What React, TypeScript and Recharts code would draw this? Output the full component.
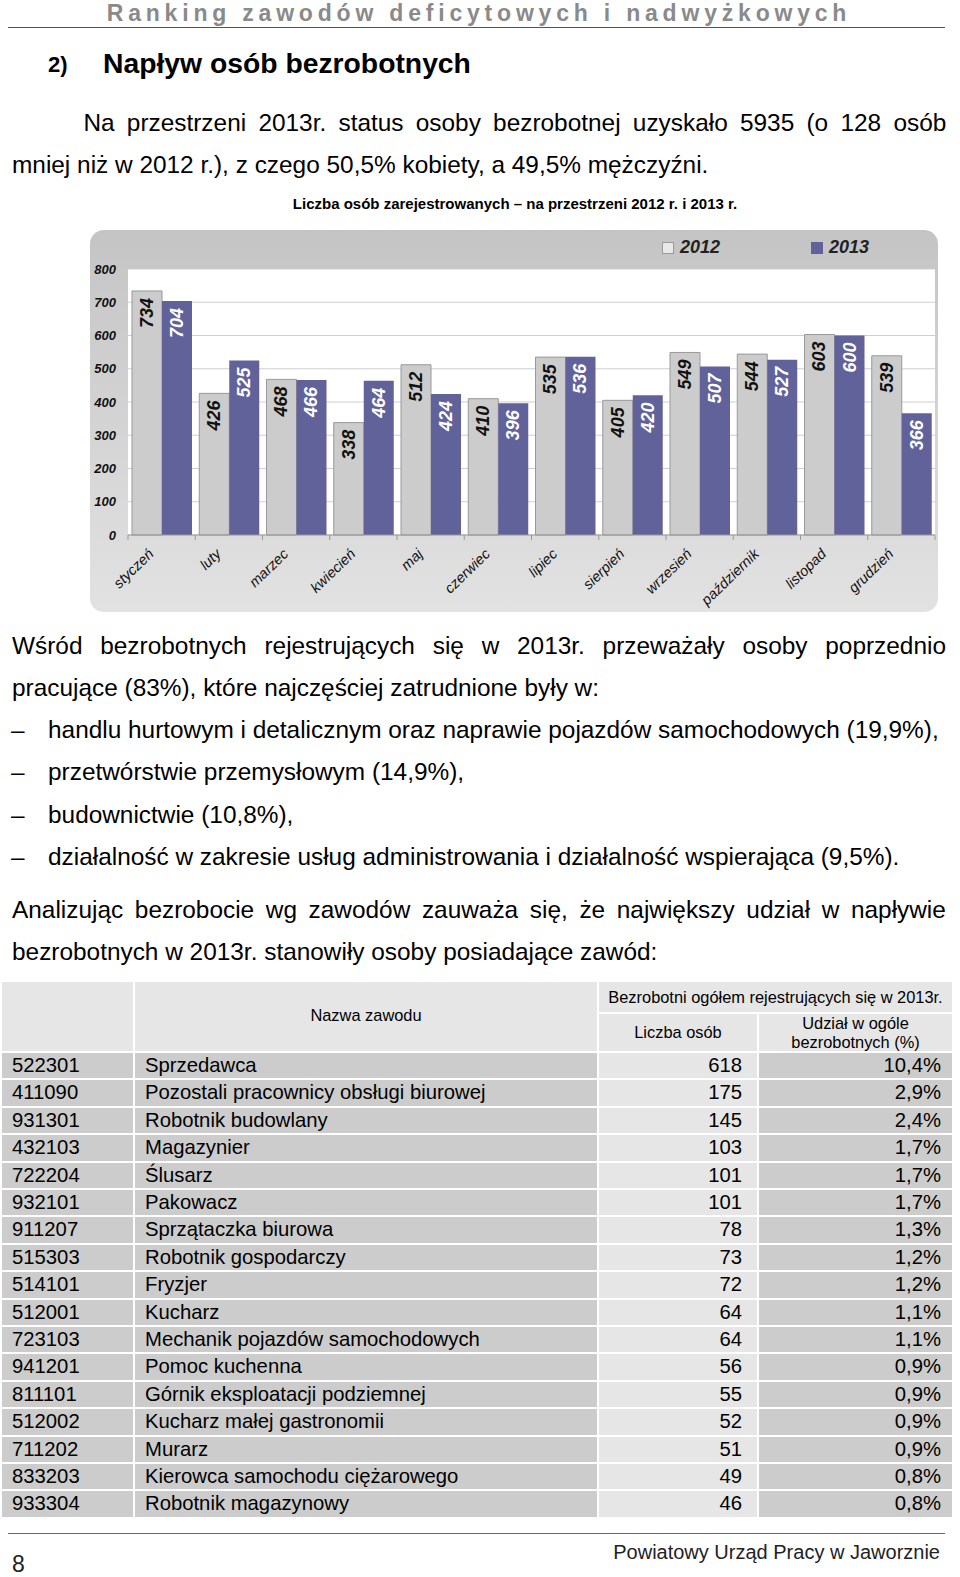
import React from "react"
import { BarChart, Bar, XAxis, YAxis, CartesianGrid, Legend, LabelList } from "recharts"

const months = ["styczeń", "luty", "marzec", "kwiecień", "maj", "czerwiec", "lipiec", "sierpień", "wrzesień", "październik", "listopad", "grudzień"]
const y2012 = [734, 426, 468, 338, 512, 410, 535, 405, 549, 544, 603, 539]
const y2013 = [704, 525, 466, 464, 424, 396, 536, 420, 507, 527, 600, 366]
const yTicks = [0, 100, 200, 300, 400, 500, 600, 700, 800]

const codes = ["522301", "411090", "931301", "432103", "722204", "932101", "911207", "515303", "514101", "512001", "723103", "941201", "811101", "512002", "711202", "833203", "933304"]
const jobs = ["Sprzedawca", "Pozostali pracownicy obsługi biurowej", "Robotnik budowlany", "Magazynier", "Ślusarz", "Pakowacz", "Sprzątaczka biurowa", "Robotnik gospodarczy", "Fryzjer", "Kucharz", "Mechanik pojazdów samochodowych", "Pomoc kuchenna", "Górnik eksploatacji podziemnej", "Kucharz małej gastronomii", "Murarz", "Kierowca samochodu ciężarowego", "Robotnik magazynowy"]
const counts = [618, 175, 145, 103, 101, 101, 78, 73, 72, 64, 64, 56, 55, 52, 51, 49, 46]
const shares = ["10,4%", "2,9%", "2,4%", "1,7%", "1,7%", "1,7%", "1,3%", "1,2%", "1,2%", "1,1%", "1,1%", "0,9%", "0,9%", "0,9%", "0,9%", "0,8%", "0,8%"]

const data = months.map((m, i) => ({ m, a: y2012[i], b: y2013[i] }))

const SANS = "'Liberation Sans', Arial, sans-serif"

function MonthTick(props: any) {
  const { x, y, payload, index } = props
  const off = payload?.offset ?? 33.6
  const tx = x - 7
  const ty = y + 20
  return (
    <g>
      <line x1={x - off} y1={y} x2={x - off} y2={y + 5} stroke="#999" />
      {index === months.length - 1 && <line x1={x + off} y1={y} x2={x + off} y2={y + 5} stroke="#999" />}
      <text x={tx} y={ty} transform={`rotate(-44, ${tx}, ${ty})`} textAnchor="end"
        fontFamily={SANS} fontStyle="italic" fontSize={14.5} fill="#111">{payload.value}</text>
    </g>
  )
}

function BarValue(color: string) {
  return (props: any) => {
    const { x, y, width, value } = props
    const cx = x + width / 2
    const cy = y + 7
    return (
      <text x={cx} y={cy} transform={`rotate(-90, ${cx}, ${cy})`} textAnchor="end" dominantBaseline="central"
        fontFamily={SANS} fontWeight="bold" fontStyle="italic" fontSize={18} fill={color}>{value}</text>
    )
  }
}

function LegendBox() {
  const item = (label: string, fill: string, stroke: string) => (
    <div style={{ display: "flex", alignItems: "center", width: 149 }}>
      <span style={{ display: "inline-block", width: 10, height: 10, background: fill, border: `1px solid ${stroke}`, marginRight: 6 }} />
      <span style={{ fontFamily: SANS, fontWeight: "bold", fontStyle: "italic", fontSize: 18, color: "#222" }}>{label}</span>
    </div>
  )
  return (
    <div style={{ display: "flex" }}>
      {item("2012", "#e8e8e8", "#999")}
      {item("2013", "#62629a", "#62629a")}
    </div>
  )
}

function Chart() {
  return (
    <div style={{ position: "absolute", left: 90, top: 230, width: 848, height: 382, borderRadius: 14,
      background: "linear-gradient(#c4c4c4 0%, #c8c8c8 12%, #e2e2e2 100%)", overflow: "hidden" }}>
      <BarChart width={848} height={382} data={data} margin={{ top: 17, right: 3, left: 8, bottom: 7 }}
        barCategoryGap={4} barGap={0}>
        <CartesianGrid vertical={false} stroke="#cfcfcf" fill="#fff" />
        <YAxis domain={[0, 800]} ticks={yTicks} width={30} axisLine={false} tickLine={false} tickSize={0} tickMargin={12}
          tick={{ fontFamily: SANS, fontWeight: "bold", fontStyle: "italic", fontSize: 13, fill: "#111" }} />
        <XAxis dataKey="m" interval={0} height={70} tickSize={0} tickMargin={0} tickLine={false}
          axisLine={{ stroke: "#999" }} tick={<MonthTick />} />
        <Legend verticalAlign="top" content={<LegendBox />}
          wrapperStyle={{ top: 7, left: 572, width: 300, height: 22 }} />
        <Bar dataKey="a" name="2012" fill="#cccccc" stroke="#999" strokeWidth={1} isAnimationActive={false}>
          <LabelList dataKey="a" content={BarValue("#111")} />
        </Bar>
        <Bar dataKey="b" name="2013" fill="#62629a" isAnimationActive={false}>
          <LabelList dataKey="b" content={BarValue("#fff")} />
        </Bar>
      </BarChart>
    </div>
  )
}

const BODY = 24.4

function Line({ top, left, children, size = BODY, style = {} }: any) {
  return (
    <div style={{ position: "absolute", top: top - 21, left, height: 42, lineHeight: "42px", fontFamily: SANS,
      fontSize: size, color: "#000", whiteSpace: "nowrap", ...style }}>{children}</div>
  )
}

function JustLine({ top, left, width, text }: any) {
  const words = text.split(" ")
  return (
    <div style={{ position: "absolute", top: top - 21, left, width, height: 42, lineHeight: "42px", fontFamily: SANS,
      fontSize: BODY, color: "#000", whiteSpace: "nowrap", display: "flex", justifyContent: "space-between" }}>
      {words.map((w: string, i: number) => <span key={i}>{w}</span>)}
    </div>
  )
}

const bullets = [
  "handlu hurtowym i detalicznym oraz naprawie pojazdów samochodowych (19,9%),",
  "przetwórstwie przemysłowym (14,9%),",
  "budownictwie (10,8%),",
  "działalność w zakresie usług administrowania i działalność wspierająca (9,5%).",
]

function Table() {
  const cols = [[2, 133], [135, 597], [599, 757], [759, 952]]
  const light = "#e6e6e6"
  const dark = "#cccccc"
  const rowTop = 1053
  const pitch = 27.4
  const cell = (l: number, r: number, t: number, h: number, bg: string, content: any, align: string, pad = 10, size = 20.3) => (
    <div style={{ position: "absolute", left: l, top: t, width: r - l, height: h, background: bg, fontFamily: SANS, fontSize: size,
      color: "#000", display: "flex", alignItems: "center", justifyContent: align, padding: `0 ${pad}px`, boxSizing: "border-box",
      lineHeight: 1.15, textAlign: "center", whiteSpace: "nowrap" }}>{content}</div>
  )
  return (
    <>
      {cell(cols[0][0], cols[0][1], 982, 69, light, "", "center")}
      {cell(cols[1][0], cols[1][1], 982, 69, light, <span style={{ marginTop: -3 }}>Nazwa zawodu</span>, "center", 0, 16.4)}
      {cell(cols[2][0], cols[3][1], 982, 30, light, "Bezrobotni ogółem rejestrujących się w 2013r.", "center", 0, 16.4)}
      {cell(cols[2][0], cols[2][1], 1014, 37, light, "Liczba osób", "center", 0, 16.4)}
      {cell(cols[3][0], cols[3][1], 1014, 37, light, <span>Udział w ogóle<br />bezrobotnych (%)</span>, "center", 0, 16.4)}
      {codes.map((c, i) => {
        const t = rowTop + i * pitch
        const h = pitch - 2
        return (
          <React.Fragment key={c + i}>
            {cell(cols[0][0], cols[0][1], t, h, dark, c, "flex-start")}
            {cell(cols[1][0], cols[1][1], t, h, dark, jobs[i], "flex-start")}
            {cell(cols[2][0], cols[2][1], t, h, light, counts[i], "flex-end", 15)}
            {cell(cols[3][0], cols[3][1], t, h, dark, shares[i], "flex-end", 11)}
          </React.Fragment>
        )
      })}
    </>
  )
}

export default function App() {
  return (
    <div style={{ position: "absolute", left: 0, top: 0, width: 960, height: 1577, background: "#fff", overflow: "hidden" }}>
      <div style={{ position: "absolute", top: 0, left: -1, width: 960, height: 26, lineHeight: "26px", textAlign: "center",
        fontFamily: SANS, fontWeight: "bold", fontSize: 23, letterSpacing: 4.8, color: "#8a8a8a" }}>
        Ranking zawodów deficytowych i nadwyżkowych
      </div>
      <div style={{ position: "absolute", top: 27, left: 8, width: 937, height: 0, borderTop: "1.5px solid #555" }} />

      <Line top={65.4} left={48} size={22} style={{ fontWeight: "bold" }}>2)</Line>
      <Line top={63.4} left={103} size={28.3} style={{ fontWeight: "bold" }}>Napływ osób bezrobotnych</Line>

      <JustLine top={122.7} left={83.4} width={863}
        text="Na przestrzeni 2013r. status osoby bezrobotnej uzyskało 5935 (o 128 osób" />
      <Line top={165} left={12}>mniej niż w 2012 r.), z czego 50,5% kobiety, a 49,5% mężczyźni.</Line>

      <div style={{ position: "absolute", top: 194, left: 215, width: 600, textAlign: "center", fontFamily: SANS,
        fontWeight: "bold", fontSize: 15, lineHeight: "20px" }}>
        Liczba osób zarejestrowanych – na przestrzeni 2012 r. i 2013 r.
      </div>

      <Chart />

      <JustLine top={645.7} left={12} width={934}
        text="Wśród bezrobotnych rejestrujących się w 2013r. przeważały osoby poprzednio" />
      <Line top={688} left={12}>pracujące (83%), które najczęściej zatrudnione były w:</Line>
      {bullets.map((b, i) => (
        <React.Fragment key={b}>
          <Line top={730 + i * 42.3} left={11}>–</Line>
          <Line top={730 + i * 42.3} left={48}>{b}</Line>
        </React.Fragment>
      ))}
      <JustLine top={910} left={12} width={934}
        text="Analizując bezrobocie wg zawodów zauważa się, że największy udział w napływie" />
      <Line top={952.4} left={12}>bezrobotnych w 2013r. stanowiły osoby posiadające zawód:</Line>

      <Table />

      <div style={{ position: "absolute", top: 1533, left: 8, width: 937, height: 0, borderTop: "1.5px solid #666" }} />
      <div style={{ position: "absolute", top: 1538, right: 20, lineHeight: "28px", fontFamily: SANS, fontSize: 20, color: "#222" }}>
        Powiatowy Urząd Pracy w Jaworznie
      </div>
      <div style={{ position: "absolute", top: 1552, left: 12, lineHeight: "24px", fontFamily: SANS, fontSize: 23, color: "#222" }}>8</div>
    </div>
  )
}
